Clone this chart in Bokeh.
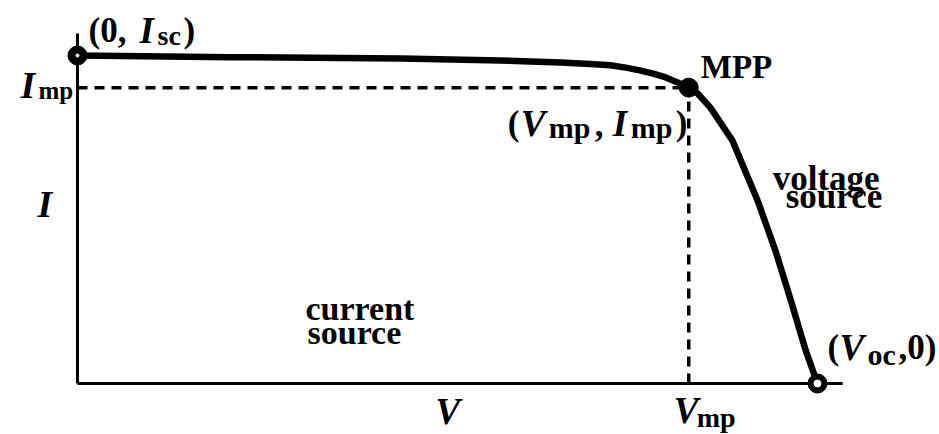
from bokeh.plotting import figure
from bokeh.models import Range1d, Label
from bokeh.embed import file_html
from bokeh.resources import INLINE

# Normalised I-V characteristic of a solar cell (V / Voc, I / Isc)
voltage = [0.000, 0.207, 0.437, 0.572, 0.653, 0.693, 0.720, 0.741, 0.761, 0.778,
           0.795, 0.811, 0.826, 0.838, 0.855, 0.885, 0.919, 0.943, 0.964,
           0.984, 1.000]
current = [1.000, 0.995, 0.991, 0.985, 0.979, 0.974, 0.970, 0.963, 0.954, 0.945,
           0.933, 0.918, 0.902, 0.884, 0.842, 0.741, 0.558, 0.406, 0.253,
           0.101, 0.000]

isc = 1.0      # short-circuit current
voc = 1.0      # open-circuit voltage
vmp = 0.826    # voltage at maximum power point
imp = 0.902    # current at maximum power point

v_axis_end = 1.034
i_axis_end = 1.067

p = figure(width=939, height=434, output_backend="svg", toolbar_location=None,
           x_range=Range1d(-0.10405, 1.16486), y_range=Range1d(-0.15549, 1.16768),
           x_axis_type=None, y_axis_type=None, min_border=0,
           outline_line_color=None, background_fill_color="white",
           border_fill_color="white")
p.grid.visible = False

# axes
p.line([0, 0], [0, i_axis_end], line_color="black", line_width=3)
p.line([0, v_axis_end], [0, 0], line_color="black", line_width=3)

# guide lines to the maximum power point
p.line([0, vmp], [imp, imp], line_color="black", line_width=3.5, line_dash="10 7")
p.line([vmp, vmp], [0, imp], line_color="black", line_width=3.5, line_dash="10 7")

# I-V curve
p.line(voltage, current, line_color="black", line_width=6.5, line_join="round")

# characteristic points
p.scatter([0], [isc], size=19, color="black")
p.scatter([0], [isc], size=3, color="white")
p.scatter([voc], [0], size=19, color="black")
p.scatter([voc], [0], size=7, color="white")
p.scatter([vmp], [imp], size=19, color="black")

FONT = "Liberation Serif"


def put(x, y, dx, dy, text, size, italic=False):
    # dy is the baseline offset in pixels; the extra term lifts the glyphs
    # so that the baseline (not the descender) sits at that offset
    p.add_layout(Label(x=x, y=y, x_offset=dx, y_offset=dy + round(0.28 * size),
                       text=text, text_font=FONT, text_font_size=f"{size}px",
                       text_font_style="bold italic" if italic else "bold",
                       text_color="black", text_align="left",
                       text_baseline="alphabetic"))


MAIN, ITAL = 35, 37

# (0, I_sc)
put(0, isc, 11, 15, "(0,", MAIN)
put(0, isc, 62, 15, "I", ITAL, italic=True)
put(0, isc, 80, 12, "sc", 28)
put(0, isc, 106, 15, ")", MAIN)

# I_mp tick label
put(0, imp, -57, -8, "I", ITAL + 1, italic=True)
put(0, imp, -39, -10, "mp", 25)

# axis titles
put(0, 0, -40, 168, "I", ITAL + 1, italic=True)
put(0, 0, 358, -38, "V", ITAL, italic=True)

# V_mp tick label
put(vmp, 0, -15, -37, "V", ITAL, italic=True)
put(vmp, 0, 8, -42, "mp", 28)

# MPP and its coordinates
put(vmp, imp, 12, 12, "MPP", 33)
put(vmp, imp, -181, -46, "(", MAIN)
put(vmp, imp, -168, -46, "V", ITAL, italic=True)
put(vmp, imp, -140, -48, "mp", 30)
put(vmp, imp, -94, -46, ",", MAIN)
put(vmp, imp, -76, -46, "I", ITAL, italic=True)
put(vmp, imp, -58, -48, "mp", 30)
put(vmp, imp, -13, -46, ")", MAIN)

# region descriptions
put(vmp, imp, 84, -101, "voltage", MAIN)
put(vmp, imp, 97, -119, "source", MAIN)
put(0, 0, 228, 65, "current", 34)
put(0, 0, 230, 41, "source", 34)

# (V_oc, 0)
put(voc, 0, 10, 26, "(", MAIN)
put(voc, 0, 22, 26, "V", ITAL, italic=True)
put(voc, 0, 50, 21, "oc", 30)
put(voc, 0, 81, 26, ",0)", MAIN)

open("out.html", "w").write(file_html(p, INLINE))
